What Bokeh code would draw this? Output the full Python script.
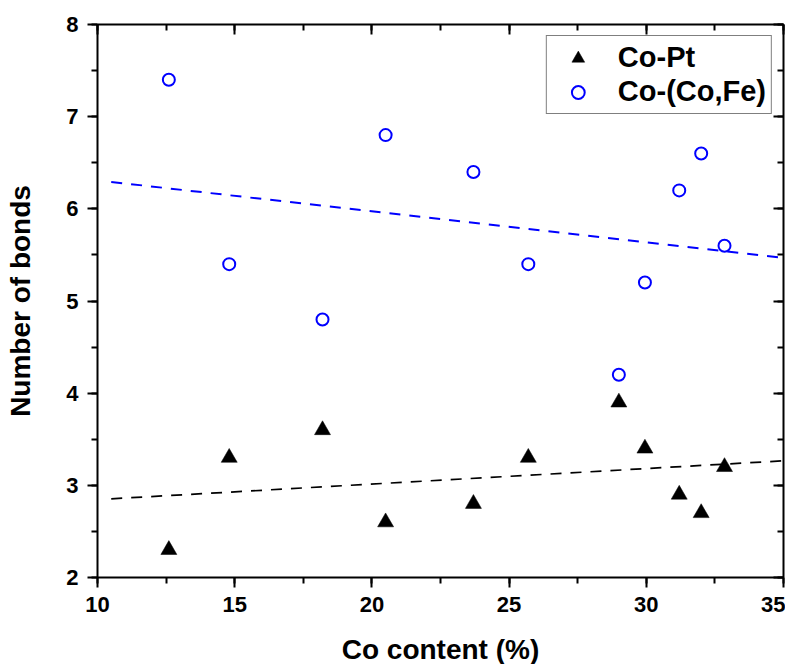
import numpy as np
from bokeh.plotting import figure
from bokeh.models import (LinearAxis, SingleIntervalTicker, Range1d, Legend,
                          LegendItem, ColumnDataSource)
from bokeh.embed import file_html
from bokeh.resources import INLINE

# ---- data ----
co_content = [12.6, 14.8, 18.2, 20.5, 23.7, 25.7, 29.0, 29.95, 31.2, 32.0, 32.85]
co_pt = [2.3, 3.3, 3.6, 2.6, 2.8, 3.3, 3.9, 3.4, 2.9, 2.7, 3.2]
co_cofe = [7.4, 5.4, 4.8, 6.8, 6.4, 5.4, 4.2, 5.2, 6.2, 6.6, 5.6]
fit_x = [10.5, 35.0]
series_labels = ["Co-Pt", "Co-(Co,Fe)"]
x_title = "Co content (%)"
y_title = "Number of bonds"

FONT = "Liberation Sans"

src = ColumnDataSource(dict(x=co_content, pt=co_pt, fe=co_cofe))

# linear fits
k1, b1 = np.polyfit(co_content, co_pt, 1)
k2, b2 = np.polyfit(co_content, co_cofe, 1)
fx = np.array(fit_x)
fit_src = ColumnDataSource(dict(x=fx, pt=k1 * fx + b1, fe=k2 * fx + b2))

p = figure(frame_width=686, frame_height=553,
           x_range=Range1d(10, 35), y_range=Range1d(2, 8),
           output_backend="svg", toolbar_location=None,
           min_border_left=97, min_border_right=2, min_border_top=24,
           min_border_bottom=10)
p.xgrid.visible = False
p.ygrid.visible = False
p.outline_line_color = None
p.background_fill_color = "white"
p.border_fill_color = "white"

xt = SingleIntervalTicker(interval=5, num_minor_ticks=2)
yt = SingleIntervalTicker(interval=1, num_minor_ticks=2)


def style_axis(ax, labels=True, inward=False):
    ax.axis_line_width = 2
    ax.axis_line_color = "black"
    ax.major_tick_line_width = 2
    ax.minor_tick_line_width = 2
    ax.major_tick_line_color = "black"
    ax.minor_tick_line_color = "black"
    if inward:
        ax.major_tick_in, ax.major_tick_out = 10, 0
        ax.minor_tick_in, ax.minor_tick_out = 6, 0
    else:
        ax.major_tick_in, ax.major_tick_out = 0, 10
        ax.minor_tick_in, ax.minor_tick_out = 0, 6
    ax.major_label_text_font = FONT
    ax.major_label_text_font_style = "bold"
    if labels:
        ax.major_label_text_color = "black"
        ax.major_label_text_font_size = "22px"
        ax.major_label_standoff = 9
    else:
        ax.major_label_text_color = None
        ax.major_label_text_font_size = "1px"
        ax.major_label_standoff = 0
    ax.axis_label_text_font = FONT
    ax.axis_label_text_font_style = "bold"
    ax.axis_label_text_font_size = "28px"
    ax.axis_label_text_color = "black"


p.xaxis.ticker = xt
p.yaxis.ticker = yt
for ax in p.xaxis:
    style_axis(ax)
    ax.axis_label = x_title
    ax.axis_label_standoff = 19
for ax in p.yaxis:
    style_axis(ax)
    ax.axis_label = y_title
    ax.axis_label_standoff = 27

top = LinearAxis(ticker=xt)
style_axis(top, labels=False, inward=True)
p.add_layout(top, "above")
right = LinearAxis(ticker=yt)
style_axis(right, labels=False, inward=True)
p.add_layout(right, "right")

# fit lines
p.line("x", "pt", source=fit_src, line_color="black", line_width=1.7,
       line_dash="11 9")
p.line("x", "fe", source=fit_src, line_color="#0000ff", line_width=2,
       line_dash="11 9")

r1 = p.scatter("x", "pt", source=src, marker="triangle", size=16,
               fill_color="black", line_color="black", line_width=0.5)
r2 = p.scatter("x", "fe", source=src, marker="circle", size=12,
               fill_color=None, line_color="#0000ff", line_width=2)

legend = Legend(items=[LegendItem(label=series_labels[0], renderers=[r1]),
                       LegendItem(label=series_labels[1], renderers=[r2])],
                location="top_right", margin=11)
legend.label_text_font = FONT
legend.label_text_font_style = "bold"
legend.label_text_font_size = "29px"
legend.label_text_color = "black"
legend.glyph_width = 52
legend.glyph_height = 32
legend.label_height = 30
legend.label_standoff = 14
legend.padding = 5
legend.spacing = 1
legend.border_line_color = "black"
legend.border_line_width = 1
legend.background_fill_color = "white"
legend.background_fill_alpha = 1
p.add_layout(legend, "center")

open("out.html", "w").write(file_html(p, INLINE))
